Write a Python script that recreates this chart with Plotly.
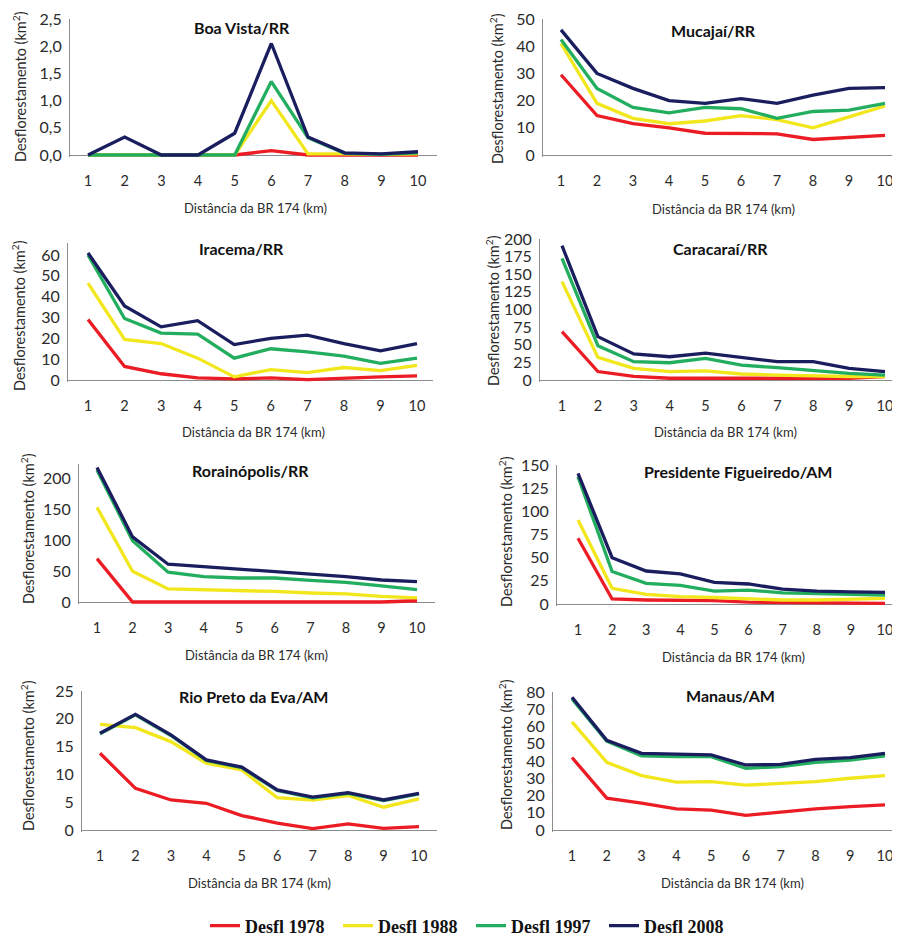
import plotly.graph_objects as go

# ---------------- data ----------------
distancia = [1, 2, 3, 4, 5, 6, 7, 8, 9, 10]
anos = ["Desfl 1978", "Desfl 1988", "Desfl 1997", "Desfl 2008"]
cores = ["#EC1C24", "#F2E61C", "#22AE5E", "#1B1E5E"]

municipios = ["Boa Vista/RR", "Mucajaí/RR", "Iracema/RR", "Caracaraí/RR",
              "Rorainópolis/RR", "Presidente Figueiredo/AM",
              "Rio Preto da Eva/AM", "Manaus/AM"]

boa_vista_1978 = [0, 0, 0, 0, 0, 0.08, 0, 0, 0, 0]
boa_vista_1988 = [0, 0, 0, 0, 0, 1.0, 0.02, 0.02, 0.01, 0.02]
boa_vista_1997 = [0, 0, 0, 0, 0, 1.35, 0.32, 0.03, 0.01, 0.04]
boa_vista_2008 = [0, 0.33, 0, 0, 0.4, 2.05, 0.33, 0.04, 0.02, 0.06]

mucajai_1978 = [29.5, 14.5, 11.5, 10, 8, 7.8, 7.8, 5.7, 6.5, 7.2]
mucajai_1988 = [41, 19, 13.5, 11.5, 12.5, 14.5, 13, 10, 14, 18]
mucajai_1997 = [42.5, 24.5, 17.5, 15.5, 17.5, 17, 13.5, 16, 16.5, 19]
mucajai_2008 = [46, 30, 24.5, 20, 19, 20.7, 19, 22, 24.5, 24.8]

iracema_1978 = [29, 6.5, 3, 1, 0.5, 1, 0.2, 1, 1.5, 2]
iracema_1988 = [46.5, 19.5, 17.5, 10.5, 1.5, 5, 3.5, 6, 4.5, 7]
iracema_1997 = [60, 29.5, 22.5, 22, 10.5, 15, 13.5, 11.5, 8, 10.5]
iracema_2008 = [61, 35.5, 25.5, 28.5, 17, 20, 21.5, 17.5, 14, 17.5]

caracarai_1978 = [68.5, 12, 5, 2.5, 2.5, 2.5, 2.5, 2.5, 2.5, 5]
caracarai_1988 = [139.5, 32, 16.5, 12, 13, 8.5, 7, 5.5, 5, 5]
caracarai_1997 = [172.5, 48.7, 26, 24.5, 30.7, 21, 17.5, 13, 9.5, 7]
caracarai_2008 = [190.5, 61.5, 37, 33, 38, 32, 26, 26, 16.5, 12]

rorainopolis_1978 = [70, 0, 0, 0, 0, 0, 0, 0, 0, 2]
rorainopolis_1988 = [152.7, 49.5, 21, 20, 18, 17, 14.5, 13, 9, 6.5]
rorainopolis_1997 = [213, 99, 48, 41, 38.7, 38.7, 35, 31.7, 26, 20]
rorainopolis_2008 = [217, 105, 61, 57, 52, 48.4, 45, 41, 35.5, 33]

pres_figueiredo_1978 = [71, 5.4, 4.3, 3.6, 3.6, 2, 1.4, 1.4, 1, 0.7]
pres_figueiredo_1988 = [90.6, 17, 10.4, 8, 7, 6, 4.3, 4.3, 5, 6]
pres_figueiredo_1997 = [137.4, 35, 22.3, 20, 14, 15, 12, 11.5, 10.4, 9.7]
pres_figueiredo_2008 = [141, 50, 35.6, 32.4, 23.4, 21.6, 16, 14, 13, 12.6]

rio_preto_1978 = [13.8, 7.5, 5.4, 4.8, 2.6, 1.25, 0.25, 1.1, 0.3, 0.6]
rio_preto_1988 = [19, 18.4, 15.9, 12, 10.8, 5.8, 5.4, 6.2, 4.1, 5.6]
rio_preto_1997 = [17.3, 20.7, 17, 12.5, 11.2, 7.1, 5.8, 6.6, 5.3, 6.5]
rio_preto_2008 = [17.4, 20.8, 17.1, 12.6, 11.3, 7.2, 5.9, 6.7, 5.4, 6.6]

manaus_1978 = [42, 18.5, 15.6, 12.3, 11.5, 8.5, 10.4, 12.3, 13.5, 14.6]
manaus_1988 = [62.7, 39.2, 31.5, 27.7, 28, 26, 27, 28, 30, 31.5]
manaus_1997 = [76, 51.5, 43, 42.5, 42.5, 35.8, 36.7, 39.2, 40.5, 43]
manaus_2008 = [77, 52, 44.4, 44, 43.5, 37.7, 38, 41, 42, 44.4]

series = [
    [boa_vista_1978, boa_vista_1988, boa_vista_1997, boa_vista_2008],
    [mucajai_1978, mucajai_1988, mucajai_1997, mucajai_2008],
    [iracema_1978, iracema_1988, iracema_1997, iracema_2008],
    [caracarai_1978, caracarai_1988, caracarai_1997, caracarai_2008],
    [rorainopolis_1978, rorainopolis_1988, rorainopolis_1997, rorainopolis_2008],
    [pres_figueiredo_1978, pres_figueiredo_1988, pres_figueiredo_1997, pres_figueiredo_2008],
    [rio_preto_1978, rio_preto_1988, rio_preto_1997, rio_preto_2008],
    [manaus_1978, manaus_1988, manaus_1997, manaus_2008],
]

y_max = [2.5, 50, 66, 200, 222, 150, 25, 80]
y_dtick = [0.5, 10, 10, 25, 50, 25, 5, 10]

# ---------------- layout (screen pixels of the 900x938 view) ----------------
OX, OY = 8, 8          # page body margin
FW, FH = 892, 950      # figure size


def px(x):
    return (x - OX) / FW


def py(y):
    return 1 - (y - OY) / FH


# axis left, axis right, top (y_max), baseline (0), pixel of first / last category
geo = [
    (70, 437, 19, 155, 88, 418),
    (543, 893, 19, 155, 561, 885),
    (68, 433, 242.5, 380, 88, 417),
    (540, 893, 239, 380, 562, 885),
    (79, 435, 464.4, 602, 97, 417),
    (557, 893, 465, 604, 578, 885),
    (82, 437, 691, 830, 100, 419),
    (553, 893, 692, 830, 572, 885),
]
title_pos = [(242, 28), (713, 31), (242, 248), (720, 249),
             (250, 470), (738, 472), (253, 696), (730, 695)]
ytitle_pos = [(20, 87), (497, 89), (18, 316), (493, 310),
              (27, 529), (505, 532), (27, 756), (505, 755)]
xtitle_pos = [(255, 208), (723, 209), (253, 432), (725, 432),
              (257, 655), (733, 657), (260, 883), (732, 883)]

FONT = "Lato"
TICKCOL = "#2B2B2B"
PAD = 2  # px below zero so zero-valued lines are not clipped

fig = go.Figure()
annotations = []
for i in range(8):
    L, R, T, B, p1, p10 = geo[i]
    unit = (p10 - p1) / 9.0
    xlo = 1 - (p1 - L) / unit
    xhi = 10 + (R - p10) / unit
    ax = "" if i == 0 else str(i + 1)
    upp = y_max[i] / (B - T)  # units per pixel
    ylo = -PAD * upp
    for k in range(4):
        fig.add_trace(go.Scatter(
            x=distancia, y=series[i][k], mode="lines", name=anos[k],
            line=dict(color=cores[k], width=3.3),
            legendgroup=anos[k], showlegend=(i == 0),
            xaxis="x" + ax, yaxis="y" + ax, hoverinfo="skip"))
    fig.layout["xaxis" + ax] = dict(
        domain=[px(L), px(R)], range=[xlo, xhi], anchor="y" + ax,
        tickmode="array", tickvals=distancia, ticktext=[str(d) for d in distancia],
        showgrid=False, zeroline=False, showline=False, ticks="",
        automargin=False, ticklabeloverflow="allow",
        ticklabelstandoff=13, tickfont=dict(family=FONT, size=14.5, color=TICKCOL),
        fixedrange=True)
    fig.layout["yaxis" + ax] = dict(
        domain=[py(B + PAD), py(T)], range=[ylo, y_max[i]],
        anchor="x" + ax, tick0=0, dtick=y_dtick[i],
        tickformat=".1f" if i == 0 else "d",
        showgrid=False, zeroline=True, zerolinecolor="#8C8C8C", zerolinewidth=1,
        showline=True, linecolor="#8C8C8C", linewidth=1, ticks="",
        automargin=False, ticklabeloverflow="allow",
        ticklabelstandoff=4, tickfont=dict(family=FONT, size=16, color=TICKCOL),
        fixedrange=True)
    tx, ty = title_pos[i]
    annotations.append(dict(text="<b>" + municipios[i] + "</b>", x=px(tx), y=py(ty),
                            xref="paper", yref="paper", showarrow=False,
                            xanchor="center", yanchor="middle",
                            font=dict(family=FONT, size=16, color="#111111")))
    yx, yy = ytitle_pos[i]
    annotations.append(dict(text="Desflorestamento (km<sup>2</sup>)", x=px(yx), y=py(yy),
                            xref="paper", yref="paper", showarrow=False, textangle=-90,
                            xanchor="center", yanchor="middle",
                            font=dict(family=FONT, size=14.5, color=TICKCOL)))
    xx, xy = xtitle_pos[i]
    annotations.append(dict(text="Distância da BR 174 (km)", x=px(xx), y=py(xy),
                            xref="paper", yref="paper", showarrow=False,
                            xanchor="center", yanchor="middle",
                            font=dict(family=FONT, size=13, color=TICKCOL)))

fig.update_layout(
    width=FW, height=FH, margin=dict(l=0, r=0, t=0, b=0),
    paper_bgcolor="white", plot_bgcolor="white",
    separators=",.",
    annotations=annotations,
    legend=dict(orientation="h", x=px(205), xanchor="left", y=py(926), yanchor="middle",
                font=dict(family="Liberation Serif", size=18, color="#111111", weight="bold"),
                itemwidth=30, entrywidth=88, entrywidthmode="pixels",
                borderwidth=0, bgcolor="rgba(0,0,0,0)"),
)

fig.write_html("out.html")
